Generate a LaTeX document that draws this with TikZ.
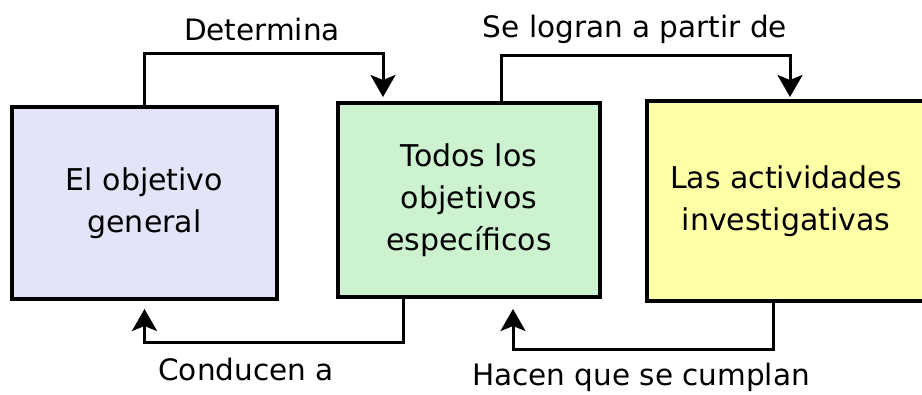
\documentclass[tikz,border=0pt]{standalone}
\usepackage{fontspec}
\setmainfont{DejaVu Sans}
\usetikzlibrary{arrows.meta}
\definecolor{lavbox}{HTML}{E4E4F8}
\definecolor{greenbox}{HTML}{CCF2D0}
\definecolor{yellowbox}{HTML}{FFFFA6}

\begin{document}
\begin{tikzpicture}[x=1pt, y=-1pt,
    box/.style={rectangle, draw, line width=4pt, align=center, inner sep=0pt,
        font=\fontsize{30}{42}\selectfont},
    arr/.style={line width=3pt, -{Stealth[length=22pt, width=25pt, inset=5pt]}},
    lbl/.style={font=\fontsize{29.5}{34}\selectfont}]

    \useasboundingbox (0,0) rectangle (922,394);

    % Boxes
    \node at (144.5, 203) [box, fill=lavbox, minimum width=265pt, minimum height=192pt] (gen) {El objetivo\\general};
    \node at (469, 200) [box, fill=greenbox, minimum width=262pt, minimum height=194pt] (esp) {Todos los\\objetivos\\específicos};
    \node at (786, 201) [box, fill=yellowbox, minimum width=278pt, minimum height=200pt] (act) {Las actividades\\investigativas};

    % Top connectors
    \draw[arr, shorten >=4pt] (gen.north) -- ++(0,-52) -| ([xshift=-86pt]esp.north);
    \draw[arr, shorten >=2pt] ([xshift=32pt]esp.north) -- ++(0,-46) -| ([xshift=4pt]act.north);

    % Bottom connectors
    \draw[arr, shorten >=8pt] ([xshift=-66pt]esp.south) -- ++(0,43) -| (gen.south);
    \draw[arr, shorten >=10pt] ([xshift=-13pt]act.south) -- ++(0,46) -| ([xshift=44pt]esp.south);

    % Labels
    \node at (262, 30) [lbl] (det) {Determina};
    \node at (635, 29) [lbl] (log) {Se logran a partir de};
    \node at (246, 369) [lbl] (con) {Conducen a};
    \node at (641, 377) [lbl] (hac) {Hacen que se cumplan};

\end{tikzpicture}
\end{document}
